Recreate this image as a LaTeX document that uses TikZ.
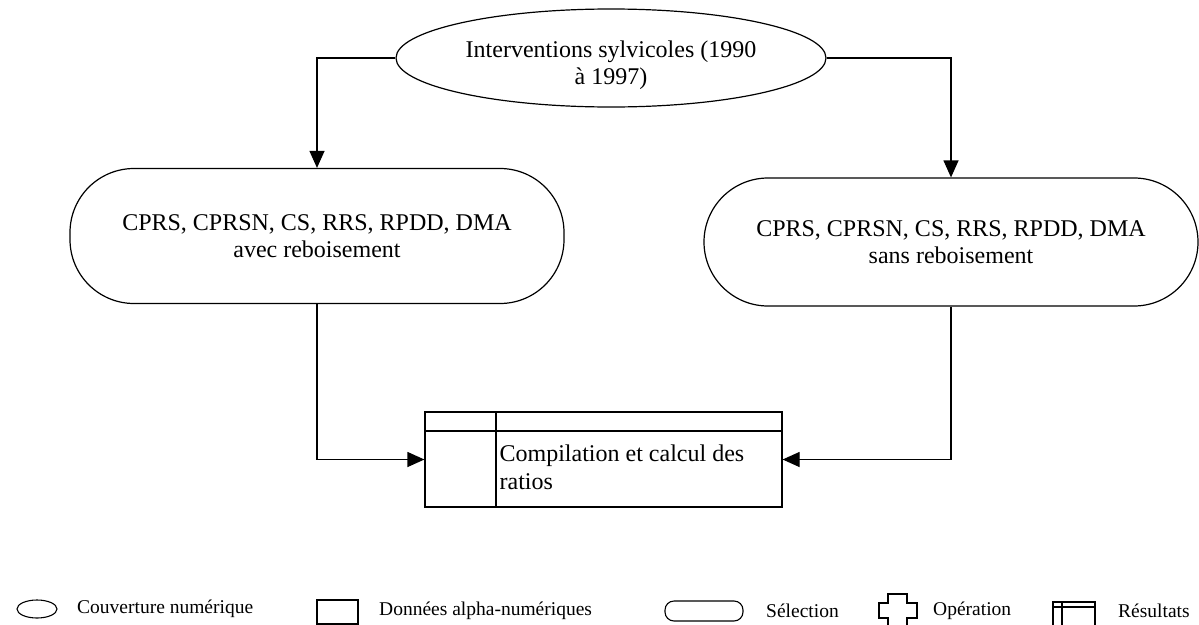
\documentclass[tikz,border=0pt]{standalone}
\usepackage{fontspec}
\setmainfont{Liberation Serif}
\usepackage{tikz}
\usetikzlibrary{arrows.meta,positioning,shapes.geometric}

\tikzset{
  base/.style={draw, line width=1.2pt, align=center, font=\fontsize{24}{27.6}\selectfont},
  couv/.style={base, ellipse, inner sep=0pt, minimum width=430pt, minimum height=98pt},
  selbox/.style={base, rectangle, rounded corners=64pt, inner sep=0pt},
  arr/.style={line width=1.2pt, -{Triangle[length=17pt,width=15pt]}},
  legtxt/.style={font=\fontsize{19.5}{22}\selectfont, inner sep=0pt, anchor=west},
}

\begin{document}
\begin{tikzpicture}[x=1pt, y=-1pt]
  \useasboundingbox (0,0) rectangle (1199,624);
  % shapes of the chart
  \node[couv] (inter) at (611,58) {\rule{0pt}{31pt}Interventions sylvicoles (1990\\ à 1997)};
  \node[selbox, minimum width=494pt, minimum height=135pt] (avec) at (317,236)
    {CPRS, CPRSN, CS, RRS, RPDD, DMA\\ avec reboisement};
  \node[selbox, minimum width=494pt, minimum height=128pt] (sans) at (951,242)
    {CPRS, CPRSN, CS, RRS, RPDD, DMA\\ sans reboisement};
  \node[draw, line width=1.2pt, minimum width=357pt, minimum height=95pt, inner sep=0pt] (res) at (603.5,459.5) {};
  \draw[line width=1.2pt] (425,431) -- (782,431);
  \draw[line width=1.2pt] (496,412) -- (496,507);
  \node[base, draw=none, align=left, anchor=west, inner sep=2pt] (comp) at (497,467.5)
    {Compilation et calcul des\\ ratios};
  % connectors
  \draw[arr] (inter.west) -| (avec.north);
  \draw[arr] (inter.east) -| (sans.north);
  \draw[arr] (avec.south) |- (res.west);
  \draw[arr] (sans.south) |- (res.east);
  % legend
  \draw[line width=1.1pt] (37,609) ellipse (20 and 9);
  \coordinate (lg1) at (57,609);
  \node[legtxt, right=20pt of lg1] (t1) {Couverture numérique};
  \draw[line width=1.1pt] (317,600) rectangle (358,624);
  \coordinate (lg2) at (358,611);
  \node[legtxt, right=21pt of lg2] (t2) {Données alpha-numériques};
  \draw[line width=1.1pt, rounded corners=9pt] (665,601) rectangle (743,621);
  \coordinate (lg3) at (743,611);
  \node[legtxt, right=23pt of lg3] (t3) {Sélection};
  \draw[line width=1.1pt] (888,627) -- (888,618) -- (879,618) -- (879,603) -- (888,603)
    -- (888,594) -- (907,594) -- (907,603) -- (917,603) -- (917,618) -- (907,618) -- (907,627);
  \coordinate (lg4) at (917,611);
  \node[legtxt, right=16pt of lg4] (t4) {Opération};
  \draw[line width=1.1pt] (1053,602) rectangle (1095,628);
  \draw[line width=1.1pt] (1053,607) -- (1095,607);
  \draw[line width=1.1pt] (1062,602) -- (1062,628);
  \coordinate (lg5) at (1095,611);
  \node[legtxt, right=23pt of lg5] (t5) {Résultats};
\end{tikzpicture}
\end{document}
